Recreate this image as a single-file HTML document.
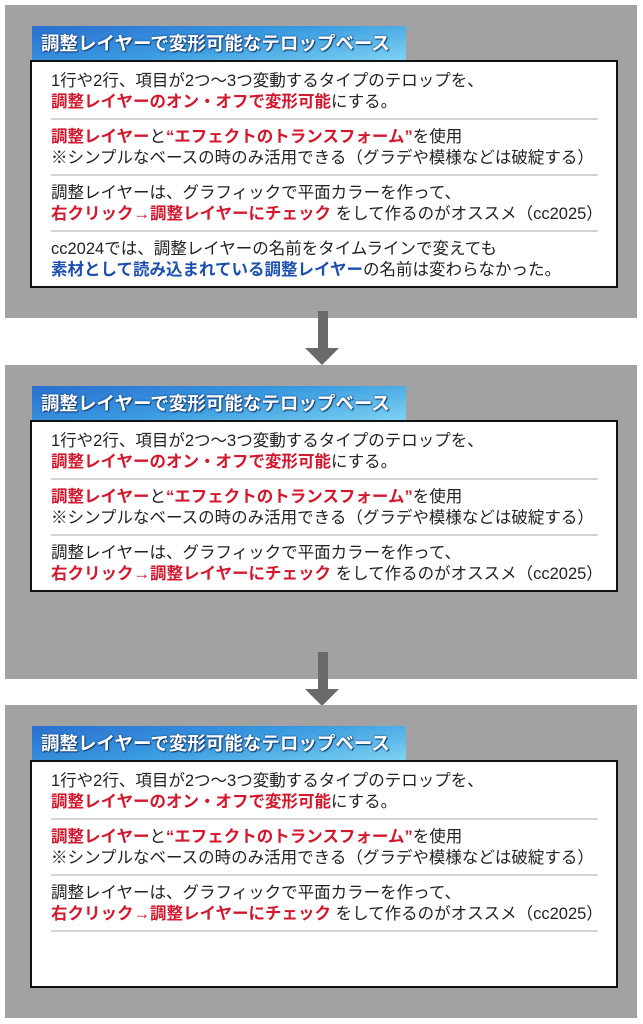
<!DOCTYPE html>
<html><head><meta charset="utf-8"><style>
*{margin:0;padding:0;box-sizing:border-box}
body{width:643px;height:1024px;background:#fff;position:relative;overflow:hidden;font-family:"Liberation Sans","Noto Sans CJK JP",sans-serif}
.panel{position:absolute;left:5px;width:632px;background:#a2a2a2}
.tab{position:absolute;left:27px;top:21px;width:374px;height:35px;background:linear-gradient(170deg,#2a6fd0 0%,#3a9be0 50%,#7fd4f2 100%);color:#fff;font-weight:bold;font-size:18.5px;line-height:35px;padding-left:9px;text-shadow:1px 1px 1px #123a70,0 0 2px #123a70;white-space:nowrap;overflow:hidden}
.box{position:absolute;left:25px;top:55px;width:588px;background:#fff;border:2px solid #111}
.row{margin:0 18px 0 19px;padding:7px 0 5px;font-size:16.5px;line-height:21px;color:#222;border-bottom:2px solid #d4d4d4;white-space:nowrap}
.row.first{padding-top:9px}
.row.last{border-bottom:none}
.r{color:#d2182e;font-weight:bold}
.b{color:#1c4fae;font-weight:bold}
.arrow{position:absolute;left:318px;width:10px;background:#6a6a6a}
.head{position:absolute;left:305px;width:0;height:0;border-left:17px solid transparent;border-right:17px solid transparent;border-top:17px solid #6a6a6a}
</style></head><body>

<div class="panel" style="top:5px;height:313px">
<div class="tab">調整レイヤーで変形可能なテロップベース</div>
<div class="box" style="height:228px">
<div class="row first">1行や2行、項目が2つ～3つ変動するタイプのテロップを、<br><span class="r">調整レイヤーのオン・オフで変形可能</span>にする。</div>
<div class="row"><span class="r">調整レイヤー</span>と<span class="r">“エフェクトのトランスフォーム”</span>を使用<br>※シンプルなベースの時のみ活用できる（グラデや模様などは破綻する）</div>
<div class="row">調整レイヤーは、グラフィックで平面カラーを作って、<br><span class="r">右クリック→調整レイヤーにチェック</span> をして作るのがオススメ（cc2025）</div>
<div class="row last">cc2024では、調整レイヤーの名前をタイムラインで変えても<br><span class="b">素材として読み込まれている調整レイヤー</span>の名前は変わらなかった。</div>
</div></div>

<div class="arrow" style="top:311px;height:38px"></div>
<div class="head" style="top:348px"></div>

<div class="panel" style="top:365px;height:314px">
<div class="tab">調整レイヤーで変形可能なテロップベース</div>
<div class="box" style="height:172px">
<div class="row first">1行や2行、項目が2つ～3つ変動するタイプのテロップを、<br><span class="r">調整レイヤーのオン・オフで変形可能</span>にする。</div>
<div class="row"><span class="r">調整レイヤー</span>と<span class="r">“エフェクトのトランスフォーム”</span>を使用<br>※シンプルなベースの時のみ活用できる（グラデや模様などは破綻する）</div>
<div class="row last">調整レイヤーは、グラフィックで平面カラーを作って、<br><span class="r">右クリック→調整レイヤーにチェック</span> をして作るのがオススメ（cc2025）</div>
</div></div>

<div class="arrow" style="top:652px;height:38px"></div>
<div class="head" style="top:689px"></div>

<div class="panel" style="top:705px;height:313px">
<div class="tab">調整レイヤーで変形可能なテロップベース</div>
<div class="box" style="height:228px">
<div class="row first">1行や2行、項目が2つ～3つ変動するタイプのテロップを、<br><span class="r">調整レイヤーのオン・オフで変形可能</span>にする。</div>
<div class="row"><span class="r">調整レイヤー</span>と<span class="r">“エフェクトのトランスフォーム”</span>を使用<br>※シンプルなベースの時のみ活用できる（グラデや模様などは破綻する）</div>
<div class="row">調整レイヤーは、グラフィックで平面カラーを作って、<br><span class="r">右クリック→調整レイヤーにチェック</span> をして作るのがオススメ（cc2025）</div>
</div></div>

</body></html>
